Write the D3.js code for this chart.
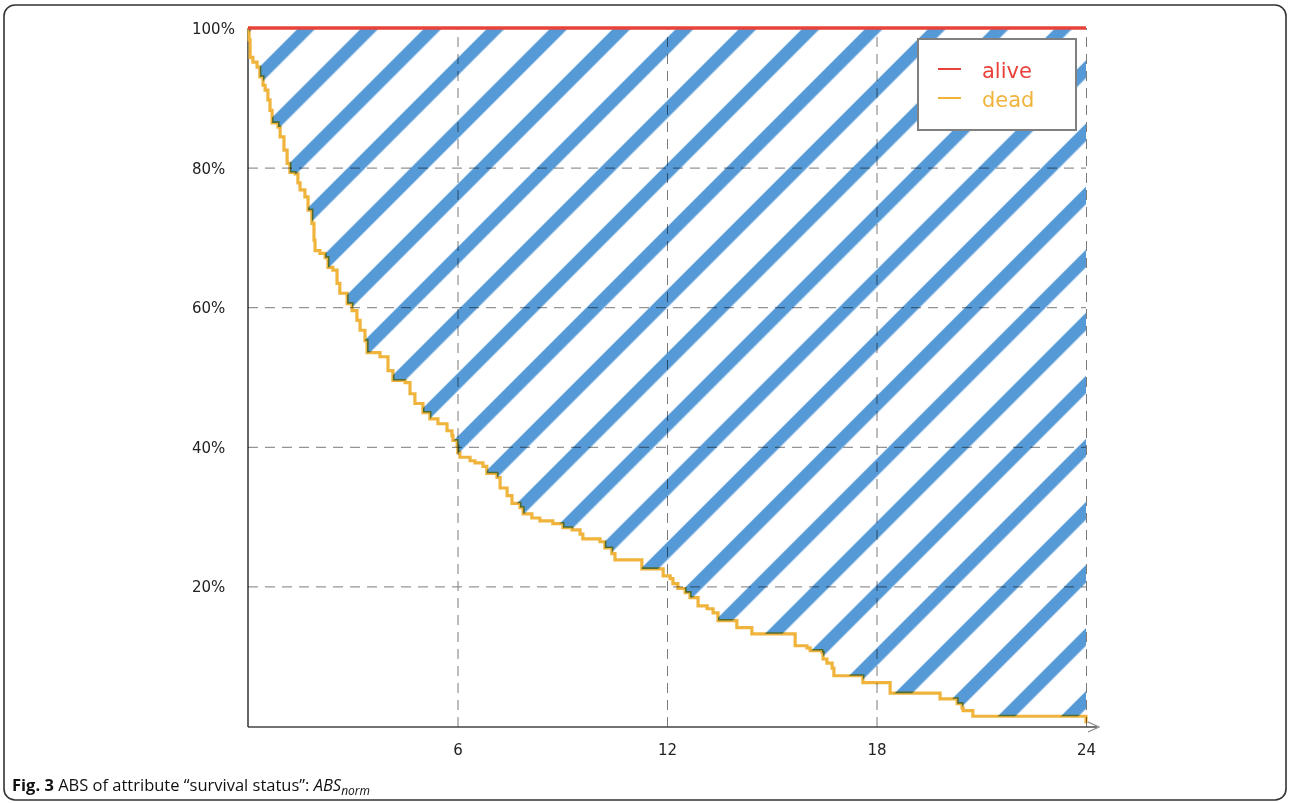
<!DOCTYPE html>
<html>
<head>
<meta charset="utf-8">
<script src="https://cdn.jsdelivr.net/npm/d3@7"></script>
<style>
  html, body { margin: 0; padding: 0; background: #fff; }
  svg { display: block; }
</style>
</head>
<body>
<svg id="chart" width="1290" height="803"></svg>
<script>
// ---- data ----
const months = [0, 0.03, 0.06, 0.14, 0.26, 0.34, 0.43, 0.49, 0.57, 0.63, 0.69, 0.86, 0.92, 1.03, 1.12, 1.20, 1.35, 1.43, 1.49, 1.63, 1.72, 1.83, 1.89, 1.92, 2.06, 2.21, 2.29, 2.43, 2.55, 2.63, 2.84, 2.98, 3.12, 3.21, 3.35, 3.41, 3.78, 4.01, 4.15, 4.50, 4.64, 4.78, 5.01, 5.21, 5.44, 5.70, 5.84, 5.87, 5.99, 6.01, 6.07, 6.36, 6.50, 6.73, 6.84, 7.13, 7.22, 7.42, 7.56, 7.79, 7.88, 8.13, 8.36, 8.73, 9.02, 9.28, 9.51, 9.59, 10.08, 10.22, 10.42, 10.51, 11.28, 11.89, 12.09, 12.17, 12.31, 12.52, 12.66, 12.89, 13.15, 13.32, 13.46, 14.00, 14.43, 15.67, 16.01, 16.10, 16.44, 16.47, 16.58, 16.73, 16.78, 17.61, 18.39, 19.82, 20.31, 20.45, 20.48, 20.76, 24];
const deadPct = [100, 98.3, 95.8, 95.1, 94.4, 93.0, 91.8, 91.1, 89.7, 88.2, 86.4, 85.8, 84.4, 82.5, 80.6, 79.3, 79.1, 77.8, 76.8, 75.8, 73.9, 72.0, 69.6, 68.1, 67.7, 67.1, 65.7, 65.3, 63.4, 62.0, 60.5, 59.5, 58.1, 56.7, 55.2, 53.5, 52.9, 50.9, 49.5, 49.2, 47.6, 46.2, 44.9, 44.0, 43.3, 42.3, 41.6, 40.9, 40.2, 39.2, 38.5, 38.0, 37.7, 37.2, 36.2, 35.6, 34.1, 33.0, 31.9, 31.3, 30.4, 29.8, 29.4, 29.0, 28.4, 28.1, 27.5, 26.8, 26.4, 25.5, 24.7, 23.8, 22.5, 21.5, 21.1, 20.4, 19.7, 19.1, 18.4, 17.2, 16.8, 16.2, 15.1, 14.1, 13.2, 11.5, 11.2, 10.8, 10.5, 9.6, 9.0, 8.3, 7.2, 6.2, 4.7, 3.9, 3.2, 2.6, 2.2, 1.4, 0.4];
const alivePct = [100, 100];
const aliveMonths = [0, 24];
const xTicks = [6, 12, 18, 24];
const yTicks = [20, 40, 60, 80, 100];
const yGrid = [20, 40, 60, 80];
const legendLabels = ["alive", "dead"];
const caption = { bold: "Fig. 3", text: " ABS of attribute \u201csurvival status\u201d: ", italic: "ABS", sub: "norm" };

// ---- layout ----
const svg = d3.select("#chart");
const x = d3.scaleLinear().domain([0, 24]).range([248, 1086]);
const y = d3.scaleLinear().domain([0, 100]).range([726, 28]);
const colors = { alive: "#e8433b", dead: "#f0b43c", hatch: "#5599d6" };

// frame
svg.append("rect").attr("x", 4).attr("y", 5).attr("width", 1282).attr("height", 795)
  .attr("rx", 11).attr("fill", "none").attr("stroke", "#333").attr("stroke-width", 1.6);

// hatch pattern
const defs = svg.append("defs");
const pat = defs.append("pattern").attr("id", "hatch").attr("patternUnits", "userSpaceOnUse")
  .attr("width", 44.6).attr("height", 20).attr("patternTransform", "rotate(45)");
pat.append("rect").attr("x", 7.8).attr("y", 0).attr("width", 12.5).attr("height", 20).attr("fill", colors.hatch);

const pts = months.map((m, i) => [m, deadPct[i]]);

// y axis line
svg.append("line").attr("x1", x(0)).attr("x2", x(0)).attr("y1", y(100)).attr("y2", y(0) + 1)
  .attr("stroke", "#333").attr("stroke-width", 1.5);

// orange curve
const line = d3.line().x(d => x(d[0])).y(d => y(d[1])).curve(d3.curveStepAfter);
svg.append("path").datum(pts).attr("d", line).attr("fill", "none")
  .attr("stroke", colors.dead).attr("stroke-width", 3.2);

// hatched area
const area = d3.area().x(d => x(d[0])).y0(y(100)).y1(d => y(d[1])).curve(d3.curveStepAfter);
svg.append("path").datum(pts).attr("d", area).attr("fill", "url(#hatch)")
  .style("mix-blend-mode", "multiply");

// grid
const gridG = svg.append("g").style("mix-blend-mode", "multiply");
gridG.append("g").attr("transform", `translate(${x(0)},0)`)
  .call(d3.axisLeft(y).tickValues(yGrid).tickSize(-(x(24) - x(0))).tickFormat(""))
  .call(g => g.select(".domain").remove())
  .call(g => g.selectAll("line").attr("stroke", "#7a7a7a").attr("stroke-dasharray", "10,7"));
gridG.append("g").attr("transform", `translate(0,${y(0) + 1})`)
  .call(d3.axisBottom(x).tickValues(xTicks).tickSize(-(y(0) + 1 - y(100))).tickFormat(""))
  .call(g => g.select(".domain").remove())
  .call(g => g.selectAll("line").attr("stroke", "#7a7a7a").attr("stroke-dasharray", "10,7"));

// x axis line with arrow
svg.append("line").attr("x1", x(0)).attr("x2", 1097).attr("y1", y(0) + 1).attr("y2", y(0) + 1)
  .attr("stroke", "#444").attr("stroke-width", 1.5);
svg.append("path").attr("d", `M1088,${y(0) - 4} L1099,${y(0) + 1} L1088,${y(0) + 6}`)
  .attr("fill", "none").attr("stroke", "#888").attr("stroke-width", 1.2);

// red alive line
svg.append("path").datum(aliveMonths.map((m, i) => [m, alivePct[i]]))
  .attr("d", d3.line().x(d => x(d[0])).y(d => y(d[1])))
  .attr("stroke", colors.alive).attr("stroke-width", 3.5).attr("fill", "none");

// tick labels
const yAx = svg.append("g").attr("transform", `translate(${x(0)},0)`)
  .call(d3.axisLeft(y).tickValues(yTicks).tickSize(0).tickFormat(d => d + "%"));
yAx.select(".domain").remove();
yAx.selectAll("text").attr("x", -56).attr("text-anchor", "start").attr("dy", "0.36em")
  .attr("font-family", "DejaVu Sans").attr("font-size", 15).attr("fill", "#222");

const xAx = svg.append("g").attr("transform", `translate(0,${y(0) + 1})`)
  .call(d3.axisBottom(x).tickValues(xTicks).tickSize(0));
xAx.select(".domain").remove();
xAx.selectAll("text").attr("y", 28).attr("dy", 0).attr("font-family", "DejaVu Sans")
  .attr("font-size", 15).attr("fill", "#222");

// legend
const lg = svg.append("g");
lg.append("rect").attr("x", 918).attr("y", 39).attr("width", 158).attr("height", 91)
  .attr("fill", "#fff").attr("stroke", "#808080").attr("stroke-width", 2);
legendLabels.forEach((lab, i) => {
  const cy = 69 + i * 29;
  lg.append("line").attr("x1", 938).attr("x2", 961).attr("y1", cy).attr("y2", cy)
    .attr("stroke", colors[lab]).attr("stroke-width", 2);
  lg.append("text").attr("x", 982).attr("y", cy + 9).text(lab)
    .attr("font-family", "DejaVu Sans").attr("font-size", 21).attr("fill", colors[lab]);
});

// caption
const cap = svg.append("text").attr("x", 12).attr("y", 791)
  .attr("font-family", "Open Sans").attr("font-size", 16.5).attr("fill", "#111");
cap.append("tspan").attr("font-weight", "bold").text(caption.bold);
cap.append("tspan").text(caption.text);
cap.append("tspan").attr("font-style", "italic").text(caption.italic);
cap.append("tspan").attr("font-style", "italic").attr("font-size", 12).attr("dy", 4).text(caption.sub);
</script>
</body>
</html>
